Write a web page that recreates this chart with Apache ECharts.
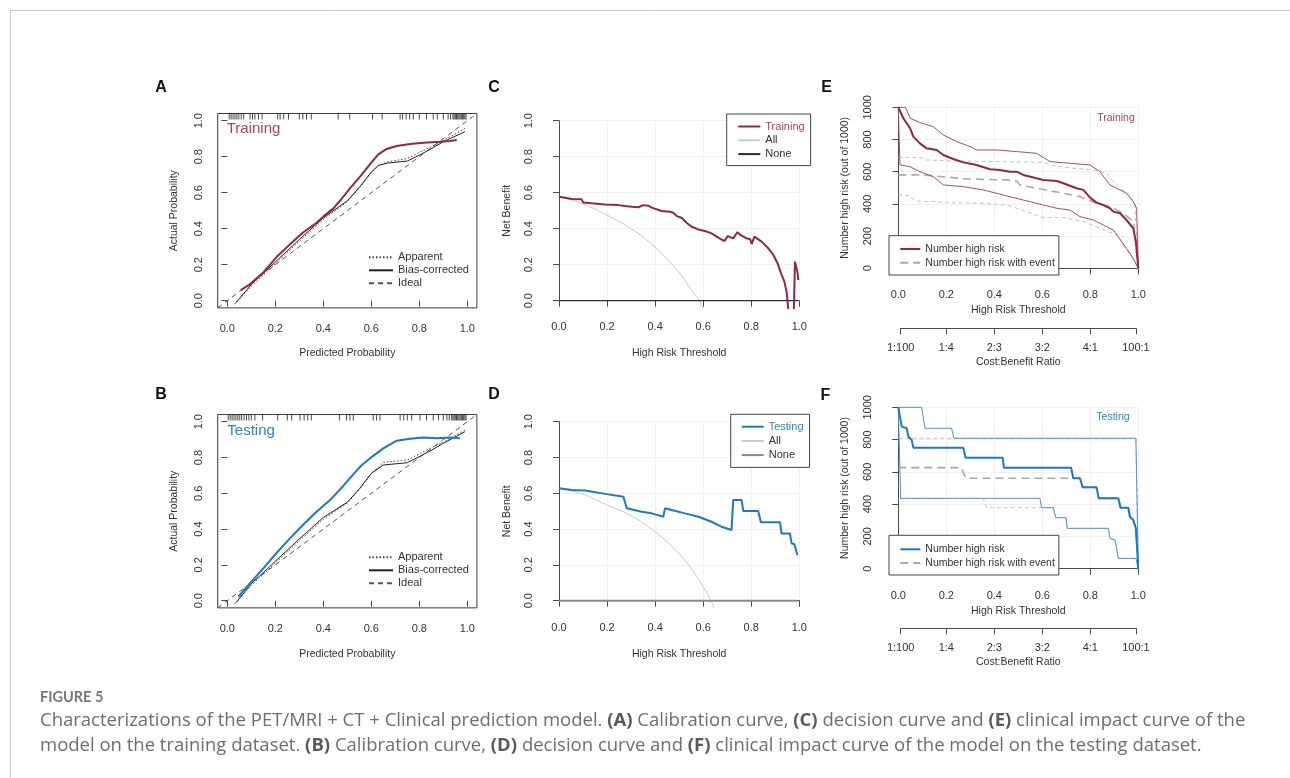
<!DOCTYPE html>
<html><head><meta charset="utf-8">
<script src="https://cdn.jsdelivr.net/npm/echarts@6/dist/echarts.min.js"></script>
<style>html,body{margin:0;padding:0;background:#fff}#c{width:1290px;height:778px}</style>
</head><body><div id="c"></div>
<script>
// ---------------- data ----------------
const probTicks = [0, 0.2, 0.4, 0.6, 0.8, 1.0];
const costBenefitLabels = ['1:100', '1:4', '2:3', '3:2', '4:1', '100:1'];
const costBenefitThresholds = [1 / 101, 0.2, 0.4, 0.6, 0.8, 100 / 101];

// A: calibration, training
const trainCalibCurve = [[0.056,0.059],[0.094,0.091],[0.15,0.157],[0.206,0.244],[0.261,0.313],[0.317,0.38],[0.372,0.433],[0.4,0.467],[0.442,0.513],[0.476,0.565],[0.511,0.624],[0.553,0.689],[0.601,0.769],[0.629,0.813],[0.664,0.843],[0.706,0.859],[0.761,0.870],[0.817,0.878],[0.886,0.883],[0.928,0.887],[0.956,0.893]];
const trainApparent = [[0.03,-0.02],[0.1,0.08],[0.2,0.205],[0.3,0.33],[0.4,0.45],[0.5,0.55],[0.55,0.625],[0.6,0.71],[0.63,0.75],[0.67,0.772],[0.75,0.79],[0.8,0.824],[0.85,0.855],[0.9,0.89],[0.99,0.957]];
const trainBiasCorrected = [[0.036,-0.011],[0.1,0.09],[0.2,0.215],[0.3,0.34],[0.4,0.46],[0.5,0.555],[0.55,0.63],[0.6,0.715],[0.63,0.752],[0.67,0.765],[0.75,0.776],[0.8,0.808],[0.85,0.845],[0.9,0.883],[0.99,0.939]];
const trainRug = [0.008,0.016,0.024,0.032,0.04,0.048,0.058,0.068,0.095,0.105,0.115,0.13,0.145,0.21,0.22,0.235,0.255,0.30,0.315,0.33,0.35,0.462,0.51,0.605,0.645,0.72,0.73,0.745,0.76,0.775,0.80,0.83,0.858,0.875,0.90,0.92,0.93,0.94,0.945,0.95,0.955,0.96,0.965,0.97,0.975,0.98,0.985,0.99,0.995];

// B: calibration, testing
const testCalibCurve = [[0.046,0.022],[0.094,0.097],[0.15,0.181],[0.206,0.268],[0.261,0.348],[0.317,0.426],[0.372,0.497],[0.428,0.562],[0.483,0.641],[0.525,0.706],[0.556,0.752],[0.594,0.795],[0.65,0.851],[0.706,0.894],[0.761,0.905],[0.817,0.912],[0.872,0.907],[0.928,0.912],[0.969,0.907]];
const testApparent = [[0.03,-0.02],[0.1,0.085],[0.2,0.21],[0.3,0.335],[0.4,0.455],[0.5,0.545],[0.55,0.62],[0.6,0.71],[0.65,0.773],[0.75,0.786],[0.8,0.82],[0.85,0.855],[0.9,0.885],[0.99,0.953]];
const testBiasCorrected = [[0.036,-0.011],[0.1,0.095],[0.2,0.22],[0.3,0.345],[0.4,0.465],[0.5,0.55],[0.55,0.625],[0.6,0.711],[0.65,0.758],[0.75,0.771],[0.8,0.805],[0.85,0.84],[0.9,0.879],[0.99,0.944]];
const testRug = [0.004,0.012,0.02,0.028,0.036,0.044,0.052,0.06,0.07,0.08,0.09,0.1,0.115,0.147,0.21,0.25,0.268,0.303,0.32,0.335,0.35,0.467,0.497,0.511,0.525,0.608,0.622,0.636,0.72,0.735,0.75,0.768,0.803,0.83,0.858,0.88,0.9,0.915,0.925,0.935,0.94,0.945,0.95,0.955,0.96,0.965,0.97,0.975,0.98,0.985,0.99,0.995];
const idealLine = [[-0.04,-0.04],[1.04,1.04]];

// C: decision curve, training
const trainNetBenefit = [[0,0.578],[0.025,0.572],[0.053,0.565],[0.094,0.563],[0.101,0.546],[0.136,0.541],[0.191,0.535],[0.247,0.531],[0.275,0.526],[0.302,0.522],[0.33,0.519],[0.351,0.531],[0.372,0.528],[0.386,0.517],[0.393,0.507],[0.427,0.498],[0.462,0.494],[0.476,0.489],[0.49,0.47],[0.51,0.461],[0.531,0.433],[0.552,0.411],[0.58,0.396],[0.607,0.387],[0.635,0.374],[0.663,0.35],[0.688,0.331],[0.702,0.359],[0.725,0.346],[0.742,0.38],[0.76,0.361],[0.781,0.346],[0.795,0.343],[0.802,0.315],[0.813,0.356],[0.843,0.328],[0.871,0.291],[0.892,0.254],[0.91,0.207],[0.924,0.152],[0.938,0.106],[0.947,0.05],[0.956,-0.07],[0.977,-0.07],[0.982,0.217],[0.992,0.161],[0.996,0.115]];
const trainTreatAll = [[0,0.578],[0.1,0.538],[0.2,0.475],[0.3,0.4],[0.4,0.298],[0.5,0.156],[0.55,0.062],[0.585,0],[0.6,-0.045]];
const trainTreatNone = [[0,0],[0.996,0]];

// D: decision curve, testing
const testNetBenefit = [[0,0.628],[0.053,0.618],[0.108,0.616],[0.205,0.594],[0.268,0.581],[0.282,0.516],[0.344,0.497],[0.386,0.488],[0.434,0.469],[0.441,0.516],[0.469,0.507],[0.524,0.488],[0.58,0.469],[0.635,0.441],[0.677,0.413],[0.718,0.395],[0.725,0.562],[0.76,0.562],[0.767,0.501],[0.829,0.501],[0.84,0.438],[0.92,0.438],[0.926,0.376],[0.961,0.376],[0.968,0.32],[0.979,0.317],[0.992,0.255]];
const testTreatAll = [[0,0.628],[0.1,0.595],[0.2,0.534],[0.3,0.475],[0.4,0.385],[0.5,0.262],[0.55,0.18],[0.6,0.078],[0.633,0],[0.645,-0.045]];
const testTreatNone = [[0,0],[0.992,0]];

// E: clinical impact, training (out of 1000)
const trainHighRisk = [[0,1000],[0.021,932],[0.049,870],[0.0625,818],[0.09,776],[0.118,745],[0.16,735],[0.1875,704],[0.229,679],[0.271,658],[0.326,642],[0.382,615],[0.424,611],[0.465,600],[0.493,600],[0.521,580],[0.576,559],[0.604,549],[0.66,542],[0.6875,528],[0.743,497],[0.771,487],[0.799,439],[0.826,408],[0.854,393],[0.882,373],[0.896,352],[0.924,342],[0.951,300],[0.979,248],[0.99,166],[1,0]];
const trainHighRiskUpper = [[0,1000],[0.03,1000],[0.049,932],[0.09,905],[0.146,880],[0.1875,828],[0.243,787],[0.299,756],[0.326,735],[0.41,735],[0.493,725],[0.576,714],[0.632,663],[0.688,656],[0.799,642],[0.84,600],[0.882,518],[0.924,487],[0.951,466],[0.979,414],[0.993,373],[1,0]];
const trainHighRiskLower = [[0,1000],[0.007,642],[0.049,631],[0.09,600],[0.146,569],[0.1875,518],[0.271,507],[0.354,487],[0.4375,455],[0.521,424],[0.604,393],[0.66,373],[0.715,362],[0.757,321],[0.8125,300],[0.854,269],[0.896,238],[0.951,124],[0.979,62],[1,0]];
const trainEvent = [[0,580],[0.1,580],[0.104,573],[0.1875,569],[0.285,555],[0.451,549],[0.493,542],[0.507,518],[0.576,497],[0.688,466],[0.757,445],[0.826,404],[0.882,383],[0.9375,342],[0.979,290],[1,0]];
const trainEventUpper = [[0,689],[0.09,689],[0.118,673],[0.215,667],[0.41,663],[0.604,658],[0.646,638],[0.729,621],[0.8125,611],[0.868,590],[0.896,538],[0.924,497],[0.965,455],[0.986,393],[1,0]];
const trainEventLower = [[0,455],[0.049,451],[0.069,418],[0.146,414],[0.1875,408],[0.354,404],[0.451,393],[0.493,373],[0.604,315],[0.688,315],[0.771,290],[0.84,248],[0.91,207],[0.965,83],[1,0]];

// F: clinical impact, testing
const testHighRisk = [[0,1000],[0.007,942],[0.014,880],[0.035,870],[0.042,818],[0.056,797],[0.0625,750],[0.271,750],[0.28,688],[0.435,688],[0.44,626],[0.72,626],[0.729,560],[0.757,560],[0.768,504],[0.826,504],[0.835,436],[0.917,436],[0.926,378],[0.958,378],[0.965,322],[0.979,302],[0.99,250],[1,0]];
const testHighRiskUpper = [[0,1000],[0.097,1000],[0.111,870],[0.222,870],[0.232,808],[0.99,808],[1,0]];
const testHighRiskLower = [[0,1000],[0.01,436],[0.59,436],[0.597,378],[0.646,378],[0.656,316],[0.699,316],[0.704,250],[0.875,250],[0.882,188],[0.903,178],[0.917,64],[0.99,64],[1,0]];
const testEvent = [[0,626],[0.264,626],[0.274,581],[0.285,560],[0.757,560],[0.768,504],[0.826,504],[0.835,436],[0.917,436],[0.926,378],[0.958,378],[0.965,322],[0.979,302],[0.99,250],[1,0]];
const testEventUpper = [[0,808],[0.99,808],[1,0]];
const testEventLower = [[0,436],[0.354,436],[0.368,378],[0.646,378],[0.656,316],[0.699,316],[0.704,250],[0.875,250],[0.882,188],[0.903,178],[0.917,64],[0.99,64],[1,0]];

// ---------------- styling ----------------
const FONT = '"Liberation Sans", Arial, Helvetica, sans-serif';
const AX = '#4a4a4a';
const TXT = '#333';
const RED = '#8f2846', RED_T = '#b03d5c', RED_CI = '#a4506a';
const BLUE = '#1b7bbd', BLUE_T = '#2a87c6', BLUE_CI = '#4a98cf';
const GRAY_ALL = '#c9c9c9';

const grids = [], xAxes = [], yAxes = [], series = [], legends = [], graphics = [];
const lab = {fontFamily: FONT, fontSize: 11, color: TXT};
const nameStyle = {fontFamily: FONT, fontSize: 10.5, color: TXT};

function panel(c) {
  const W = c.px1 - c.px0, H = c.py0 - c.py1;
  const ex = 0.04 * W, ey = 0.04 * H;
  const yr = c.yMax - c.yMin;
  const gi = grids.length;
  grids.push({left: c.px0 - ex, top: c.py1 - ey, width: W + 2 * ex, height: H + 2 * ey,
    show: !!c.box, borderColor: '#3c3c3c', borderWidth: 1, backgroundColor: 'rgba(0,0,0,0)'});
  const xi = xAxes.length, yi = yAxes.length;
  xAxes.push({gridIndex: gi, type: 'value', min: -0.04, max: 1.04, show: false});
  yAxes.push({gridIndex: gi, type: 'value', min: c.yMin - 0.04 * yr, max: c.yMax + 0.04 * yr, show: false});
  const ga = grids.length;
  grids.push({left: c.px0, top: c.py1, width: W, height: H, show: false});
  xAxes.push({gridIndex: ga, type: 'value', min: 0, max: 1, interval: 0.2, position: 'bottom', offset: ey,
    axisLine: {show: !c.box, lineStyle: {color: AX, width: 1}},
    axisTick: {show: true, length: 6, lineStyle: {color: AX}},
    axisLabel: Object.assign({}, lab, {margin: c.xLabMargin, formatter: v => v.toFixed(1)}),
    splitLine: {show: !!c.grid, lineStyle: {color: '#f1f1f1', width: 1}},
    name: c.xName, nameLocation: 'middle', nameGap: c.xNameGap, nameTextStyle: Object.assign({}, nameStyle)});
  yAxes.push({gridIndex: ga, type: 'value', min: c.yMin, max: c.yMax, interval: yr / 5, position: 'left', offset: ex,
    axisLine: {show: !c.box, lineStyle: {color: AX, width: 1}},
    axisTick: {show: true, length: 6, lineStyle: {color: AX}},
    axisLabel: Object.assign({}, lab, {rotate: 90, margin: c.yLabMargin, formatter: c.yFmt}),
    splitLine: {show: !!c.grid, lineStyle: {color: '#f1f1f1', width: 1}},
    name: c.yName, nameLocation: 'middle', nameGap: c.yNameGap, nameRotate: 90, nameTextStyle: Object.assign({}, nameStyle)});
  return {x: xi, y: yi, c: c};
}

function cbAxis(p, axisY, labMargin, nameGap) {
  const c = p.c, W = c.px1 - c.px0;
  const t0 = costBenefitThresholds[0], t1 = costBenefitThresholds[costBenefitThresholds.length - 1];
  const gi = grids.length;
  grids.push({left: c.px0 + t0 * W, width: (t1 - t0) * W, top: axisY - 2, height: 2, show: false});
  xAxes.push({gridIndex: gi, type: 'value', min: t0, max: t1, position: 'bottom',
    axisLine: {show: true, lineStyle: {color: AX, width: 1}},
    axisTick: {show: true, length: 6, lineStyle: {color: AX}, customValues: costBenefitThresholds},
    axisLabel: Object.assign({}, lab, {margin: labMargin, customValues: costBenefitThresholds,
      formatter: v => {
        let best = 0;
        costBenefitThresholds.forEach((t, i) => { if (Math.abs(t - v) < Math.abs(costBenefitThresholds[best] - v)) best = i; });
        return costBenefitLabels[best];
      }}),
    splitLine: {show: false},
    name: 'Cost:Benefit Ratio', nameLocation: 'middle', nameGap: nameGap, nameTextStyle: Object.assign({}, nameStyle)});
  yAxes.push({gridIndex: gi, type: 'value', show: false});
}

function line(p, name, data, color, width, type, extra) {
  series.push(Object.assign({type: 'line', name: name, xAxisIndex: p.x, yAxisIndex: p.y, data: data,
    symbol: 'none', showSymbol: false, lineStyle: {color: color, width: width, type: type || 'solid'},
    itemStyle: {color: color}, clip: true, silent: true, animation: false}, extra || {}));
}

function rug(p, name, values, yTop) {
  series.push({type: 'scatter', name: name, xAxisIndex: p.x, yAxisIndex: p.y,
    data: values.map(v => [v, yTop]), symbol: 'rect', symbolSize: [1, 6], symbolOffset: [0, 3],
    itemStyle: {color: '#1e1e1e'}, silent: true, animation: false, z: 5});
}

function legend(left, top, names, o) {
  legends.push({
    left: left, top: top, orient: 'vertical', selectedMode: false,
    itemWidth: o.itemWidth, itemHeight: 11, itemGap: o.itemGap,
    padding: o.padding, borderColor: o.border ? '#444' : 'transparent', borderWidth: o.border ? 1 : 0,
    borderRadius: 0, backgroundColor: o.border ? '#fff' : 'transparent',
    itemStyle: {opacity: 0},
    textStyle: {fontFamily: FONT, fontSize: o.fontSize || 11, color: TXT, lineHeight: 11},
    formatter: n => n.split('|')[1],
    data: names.map((n, i) => (o.colors && o.colors[i]) ? {name: n, textStyle: {color: o.colors[i]}} : {name: n}),
    z: 10
  });
}

// ---------------- panels ----------------
const fmt1 = v => v.toFixed(1);
const fmtInt = v => String(Math.round(v));

const pA = panel({px0: 227.3, px1: 467.3, py0: 300.7, py1: 120.7, yMin: 0, yMax: 1, box: true,
  xName: 'Predicted Probability', yName: 'Actual Probability', xLabMargin: 15.5, xNameGap: 40, yLabMargin: 13, yNameGap: 38, yFmt: fmt1});
const pB = panel({px0: 227.3, px1: 467.3, py0: 600.7, py1: 421.7, yMin: 0, yMax: 1, box: true,
  xName: 'Predicted Probability', yName: 'Actual Probability', xLabMargin: 15.5, xNameGap: 41, yLabMargin: 13, yNameGap: 38, yFmt: fmt1});
const pC = panel({px0: 559, px1: 799.3, py0: 300.7, py1: 120.7, yMin: 0, yMax: 1, grid: true,
  xName: 'High Risk Threshold', yName: 'Net Benefit', xLabMargin: 13.5, xNameGap: 40, yLabMargin: 15, yNameGap: 36.5, yFmt: fmt1});
const pD = panel({px0: 559, px1: 799.3, py0: 600.7, py1: 421.7, yMin: 0, yMax: 1, grid: true,
  xName: 'High Risk Threshold', yName: 'Net Benefit', xLabMargin: 14.5, xNameGap: 41, yLabMargin: 15, yNameGap: 36.5, yFmt: fmt1});
const pE = panel({px0: 898.3, px1: 1138.3, py0: 268.3, py1: 107.3, yMin: 0, yMax: 1000, grid: true,
  xName: 'High Risk Threshold', yName: 'Number high risk (out of 1000)', xLabMargin: 15, xNameGap: 30, yLabMargin: 15, yNameGap: 38, yFmt: fmtInt});
const pF = panel({px0: 898.3, px1: 1138.3, py0: 568.7, py1: 407.3, yMin: 0, yMax: 1000, grid: true,
  xName: 'High Risk Threshold', yName: 'Number high risk (out of 1000)', xLabMargin: 15, xNameGap: 30, yLabMargin: 15, yNameGap: 38, yFmt: fmtInt});
cbAxis(pE, 328.3, 14, 28);
cbAxis(pF, 628.3, 14, 28);

// A
line(pA, 'A|Ideal', idealLine, '#555', 1, [5, 4]);
line(pA, 'A|Apparent', trainApparent, '#444', 1, [1.5, 2]);
line(pA, 'A|Bias-corrected', trainBiasCorrected, '#222', 1, 'solid');
line(pA, 'A|Training', trainCalibCurve, RED, 2, 'solid');
rug(pA, 'A|rug', trainRug, 1.04);
legend(368, 251.8, ['A|Apparent', 'A|Bias-corrected', 'A|Ideal'], {itemWidth: 24, itemGap: 2, padding: 0});
// B
line(pB, 'B|Ideal', idealLine, '#555', 1, [5, 4]);
line(pB, 'B|Apparent', testApparent, '#444', 1, [1.5, 2]);
line(pB, 'B|Bias-corrected', testBiasCorrected, '#222', 1, 'solid');
line(pB, 'B|Testing', testCalibCurve, BLUE, 2, 'solid');
rug(pB, 'B|rug', testRug, 1.04);
legend(368, 551.8, ['B|Apparent', 'B|Bias-corrected', 'B|Ideal'], {itemWidth: 24, itemGap: 2, padding: 0});
// C
line(pC, 'C|All', trainTreatAll, GRAY_ALL, 1, 'solid', {smooth: 0.4});
line(pC, 'C|None', trainTreatNone, '#2a2a2a', 1.3, 'solid');
line(pC, 'C|Training', trainNetBenefit, RED, 2, 'solid');
legend(726.7, 114, ['C|Training', 'C|All', 'C|None'], {itemWidth: 22, itemGap: 2.8, padding: [7, 6, 6, 10.6], border: true, colors: [RED_T]});
// D
line(pD, 'D|All', testTreatAll, GRAY_ALL, 1, 'solid', {smooth: 0.4});
line(pD, 'D|None', testTreatNone, '#8a8a8a', 2, 'solid');
line(pD, 'D|Testing', testNetBenefit, BLUE, 2, 'solid');
legend(730.7, 414.3, ['D|Testing', 'D|All', 'D|None'], {itemWidth: 22, itemGap: 3.2, padding: [6.9, 6, 6.8, 10], border: true, colors: [BLUE_T]});
// E
line(pE, 'E|Upper with event', trainEventUpper, '#c4c4c4', 1, [4, 3]);
line(pE, 'E|Lower with event', trainEventLower, '#c4c4c4', 1, [4, 3]);
line(pE, 'E|Number high risk with event', trainEvent, '#a9a9a9', 1.6, [8, 5]);
line(pE, 'E|Upper', trainHighRiskUpper, RED_CI, 1, 'solid');
line(pE, 'E|Lower', trainHighRiskLower, RED_CI, 1, 'solid');
line(pE, 'E|Number high risk', trainHighRisk, RED, 2, 'solid');
legend(889, 235.7, ['E|Number high risk', 'E|Number high risk with event'], {itemWidth: 20, itemGap: 2.7, padding: [7.8, 4, 6.8, 10.3], border: true, fontSize: 10.5});
// F
line(pF, 'F|Upper with event', testEventUpper, '#c4c4c4', 1, [4, 3]);
line(pF, 'F|Lower with event', testEventLower, '#c4c4c4', 1, [4, 3]);
line(pF, 'F|Number high risk with event', testEvent, '#a9a9a9', 1.6, [8, 5]);
line(pF, 'F|Upper', testHighRiskUpper, BLUE_CI, 1, 'solid');
line(pF, 'F|Lower', testHighRiskLower, BLUE_CI, 1, 'solid');
line(pF, 'F|Number high risk', testHighRisk, BLUE, 2, 'solid');
legend(889, 535.3, ['F|Number high risk', 'F|Number high risk with event'], {itemWidth: 20, itemGap: 2.7, padding: [8.5, 4, 6.5, 10.3], border: true, fontSize: 10.5});

// ---------------- text / frame ----------------
const letters = [['A', 161, 87.3], ['C', 494, 87.3], ['E', 826.5, 87.3], ['B', 161, 395], ['D', 494, 395], ['F', 825.5, 395.5]];
letters.forEach(l => graphics.push({type: 'text', x: l[1], y: l[2], silent: true,
  style: {text: l[0], fontFamily: FONT, fontSize: 16, fontWeight: 'bold', fill: '#111', align: 'center', verticalAlign: 'middle'}}));
graphics.push({type: 'text', x: 226.7, y: 128.6, silent: true, style: {text: 'Training', fontFamily: FONT, fontSize: 15, fill: RED_T, align: 'left', verticalAlign: 'middle'}});
graphics.push({type: 'text', x: 227.3, y: 431, silent: true, style: {text: 'Testing', fontFamily: FONT, fontSize: 15, fill: BLUE_T, align: 'left', verticalAlign: 'middle'}});
graphics.push({type: 'text', x: 1116, y: 117.7, silent: true, style: {text: 'Training', fontFamily: FONT, fontSize: 10.5, fill: RED_T, align: 'center', verticalAlign: 'middle'}});
graphics.push({type: 'text', x: 1113, y: 416.7, silent: true, style: {text: 'Testing', fontFamily: FONT, fontSize: 10.5, fill: BLUE_T, align: 'center', verticalAlign: 'middle'}});
graphics.push({type: 'rect', silent: true, shape: {x: 10.5, y: 10.5, width: 1400, height: 1000},
  style: {fill: 'none', stroke: '#c8c8c8', lineWidth: 1}});
const CAP = '"Open Sans", Lato, sans-serif';
graphics.push({type: 'text', x: 40, y: 697, silent: true, style: {text: 'FIGURE 5', fontFamily: 'Lato, "Open Sans", sans-serif', fontSize: 14.5, fontWeight: 'bold', fill: '#777', align: 'left', verticalAlign: 'middle'}});
const CAP_SIZE = 18.5;
const richB = {b: {fontFamily: CAP, fontSize: CAP_SIZE, fontWeight: 'bold', fill: '#5a5a5a'}};
graphics.push({type: 'text', x: 40, y: 720.5, silent: true, style: {
  text: 'Characterizations of the PET/MRI + CT + Clinical prediction model. {b|(A)} Calibration curve, {b|(C)} decision curve and {b|(E)} clinical impact curve of the',
  rich: richB, fontFamily: CAP, fontSize: CAP_SIZE, fill: '#6e6e6e', align: 'left', verticalAlign: 'middle'}});
graphics.push({type: 'text', x: 40, y: 745.5, silent: true, style: {
  text: 'model on the training dataset. {b|(B)} Calibration curve, {b|(D)} decision curve and {b|(F)} clinical impact curve of the model on the testing dataset.',
  rich: richB, fontFamily: CAP, fontSize: CAP_SIZE, fill: '#6e6e6e', align: 'left', verticalAlign: 'middle'}});

const chart = echarts.init(document.getElementById('c'), null, {renderer: 'canvas', width: 1290, height: 778});
chart.setOption({
  backgroundColor: '#fff', animation: false,
  grid: grids, xAxis: xAxes, yAxis: yAxes, series: series, legend: legends,
  graphic: {elements: graphics}
});
</script></body></html>
